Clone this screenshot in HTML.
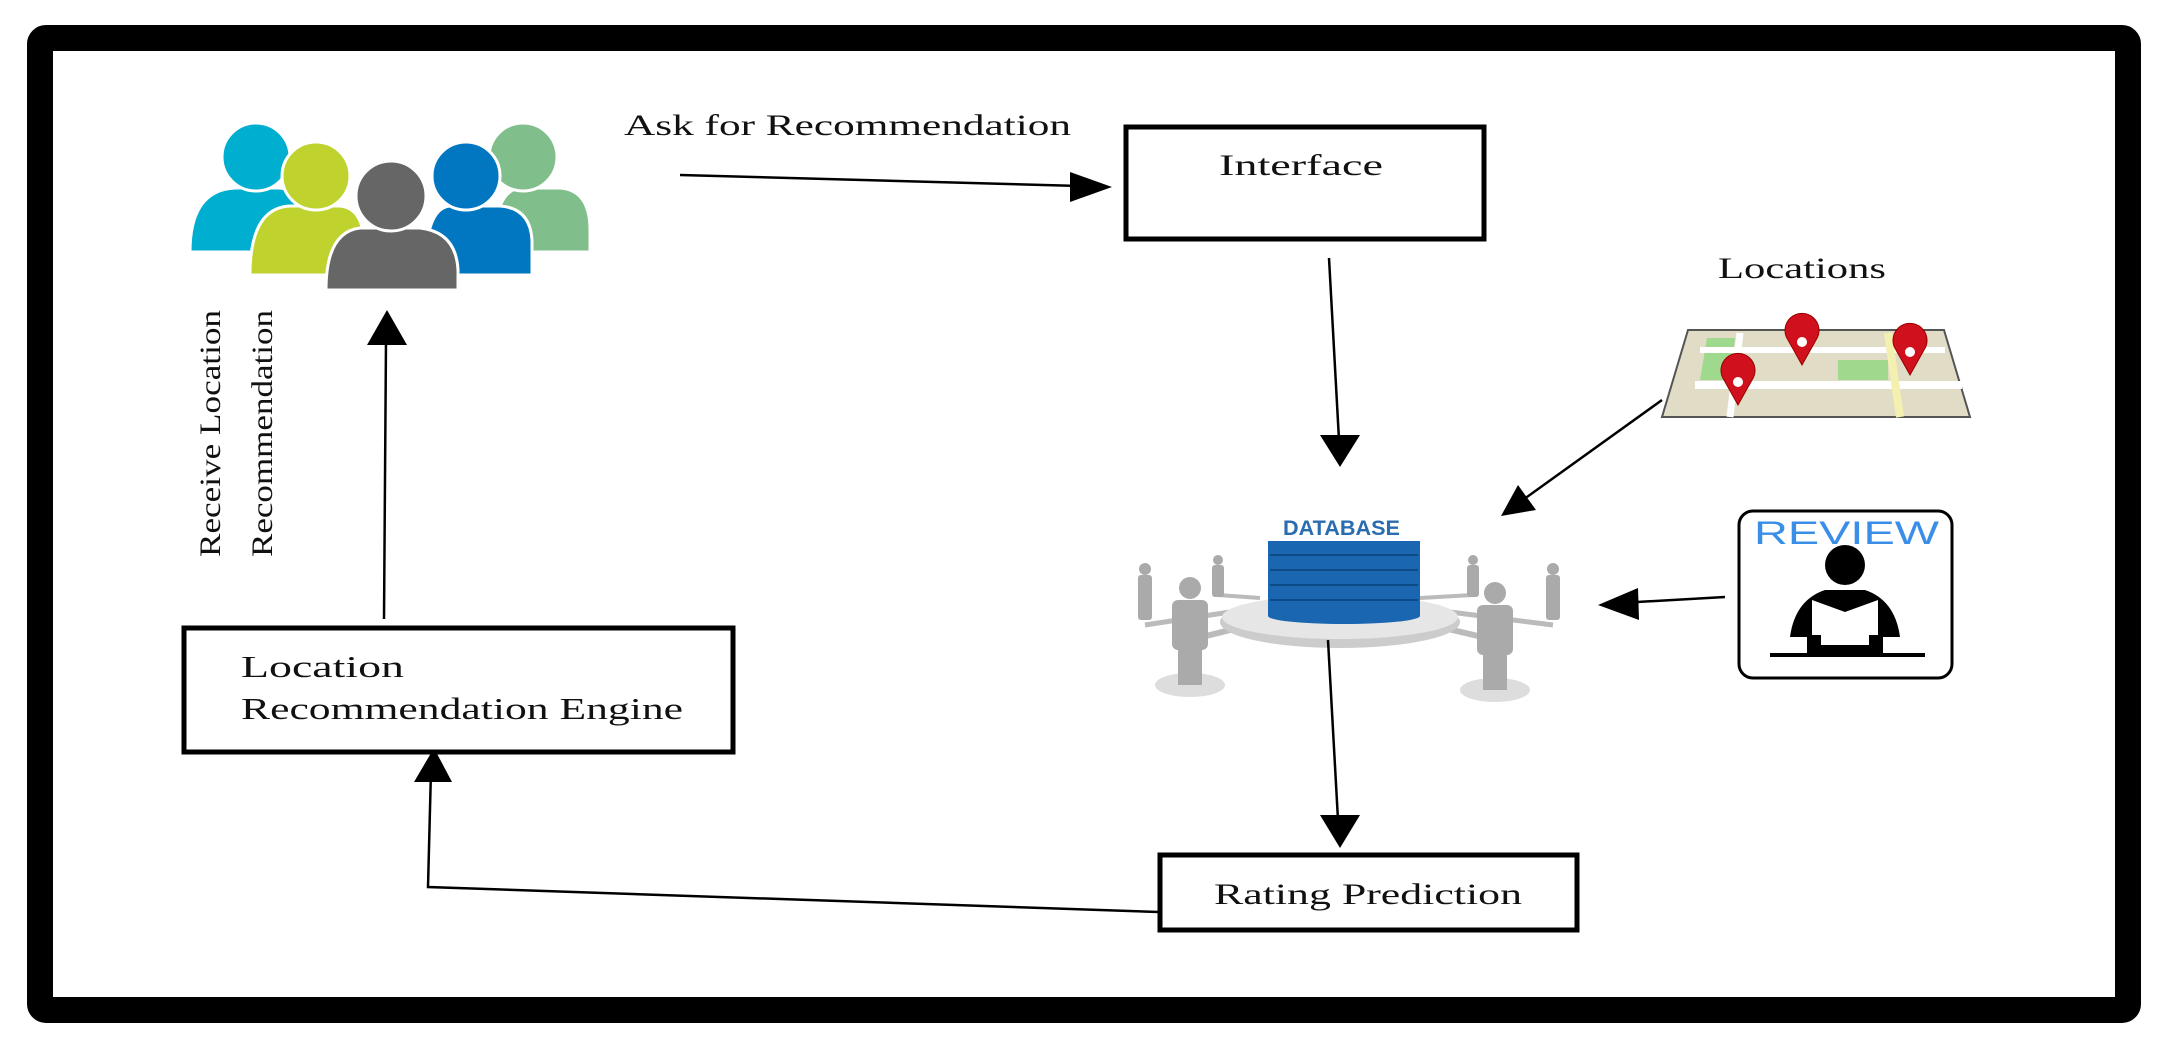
<!DOCTYPE html>
<html><head><meta charset="utf-8"><style>
html,body{margin:0;padding:0;background:#fff;}
svg{display:block;}
text{font-family:"Liberation Serif",serif;fill:#111;}
</style></head><body>
<svg width="2167" height="1046" viewBox="0 0 2167 1046" xmlns="http://www.w3.org/2000/svg">
<rect width="2167" height="1046" fill="#fff"/>
<rect x="40" y="38" width="2088" height="972" rx="6" fill="none" stroke="#000" stroke-width="26"/>

<!-- people icon -->
<g stroke="#fff" stroke-width="3">
<path d="M190,252 Q190,190 235,188 L280,188 Q300,190 305,230 L305,252 Z" fill="#00aed0"/>
<circle cx="256" cy="157" r="34" fill="#00aed0"/>
<path d="M492,252 Q495,190 520,188 L560,188 Q590,190 590,230 L590,252 Z" fill="#80be8c"/>
<circle cx="523" cy="157" r="34" fill="#80be8c"/>
<path d="M250,275 Q250,208 290,206 L340,206 Q362,208 364,240 L364,275 Z" fill="#bfd22e"/>
<circle cx="316" cy="176" r="34" fill="#bfd22e"/>
<path d="M425,275 Q425,208 450,206 L500,206 Q530,208 532,240 L532,275 Z" fill="#0077c0"/>
<circle cx="466" cy="176" r="34" fill="#0077c0"/>
<path d="M326,290 Q326,232 360,228 L420,228 Q456,232 458,270 L458,290 Z" fill="#666"/>
<circle cx="391" cy="196" r="35" fill="#666"/>
</g>

<!-- Ask for recommendation -->
<text x="624" y="135" font-size="30" textLength="447" lengthAdjust="spacingAndGlyphs">Ask for Recommendation</text>
<line x1="680" y1="175" x2="1080" y2="186" stroke="#000" stroke-width="2.5"/>
<path d="M1112,187 L1070,172 L1070,202 Z" fill="#000"/>

<!-- Interface -->
<rect x="1126" y="127" width="358" height="112" fill="#fff" stroke="#000" stroke-width="5"/>
<text x="1219" y="175" font-size="30" textLength="164" lengthAdjust="spacingAndGlyphs">Interface</text>

<!-- Interface -> DB -->
<line x1="1329" y1="258" x2="1339" y2="440" stroke="#000" stroke-width="2.5"/>
<path d="M1340,467 L1320,435 L1360,435 Z" fill="#000"/>

<!-- Locations -->
<text x="1718" y="278" font-size="30" textLength="168" lengthAdjust="spacingAndGlyphs">Locations</text>
<g>
<path d="M1688,330 L1944,330 L1970,417 L1662,417 Z" fill="#e0dcc6" stroke="#555" stroke-width="2"/>
<path d="M1707,338 L1735,338 L1730,380 L1700,380 Z" fill="#9ed98e"/>
<rect x="1838" y="360" width="50" height="20" fill="#9ed98e"/>
<path d="M1695,385 L1962,385" stroke="#fff" stroke-width="8"/>
<path d="M1700,350 L1945,350" stroke="#fff" stroke-width="6"/>
<path d="M1740,333 L1730,417" stroke="#fff" stroke-width="7"/>
<path d="M1888,333 L1900,417" stroke="#f4f0b0" stroke-width="8"/>
</g>
<g fill="#d0101c" stroke="#900" stroke-width="1">
<path d="M1738,405 L1724,380 A17,17 0 1 1 1752,380 Z"/>
<path d="M1802,365 L1788,340 A17,17 0 1 1 1816,340 Z"/>
<path d="M1910,375 L1896,350 A17,17 0 1 1 1924,350 Z"/>
</g>
<g fill="#fff"><circle cx="1738" cy="382" r="5"/><circle cx="1802" cy="342" r="5"/><circle cx="1910" cy="352" r="5"/></g>

<!-- Map -> DB -->
<line x1="1662" y1="400" x2="1520" y2="502" stroke="#000" stroke-width="2.5"/>
<path d="M1501,516 L1518,485 L1536,510 Z" fill="#000"/>

<!-- Database -->
<g>
<line x1="1190" y1="640" x2="1270" y2="620" stroke="#bbb" stroke-width="6"/>
<line x1="1495" y1="640" x2="1410" y2="620" stroke="#bbb" stroke-width="6"/>
<line x1="1145" y1="625" x2="1230" y2="612" stroke="#bbb" stroke-width="5"/>
<line x1="1553" y1="625" x2="1450" y2="612" stroke="#bbb" stroke-width="5"/>
<line x1="1218" y1="595" x2="1260" y2="598" stroke="#bbb" stroke-width="4"/>
<line x1="1473" y1="595" x2="1420" y2="598" stroke="#bbb" stroke-width="4"/>
<ellipse cx="1340" cy="622" rx="120" ry="26" fill="#ccc"/>
<ellipse cx="1340" cy="617" rx="118" ry="22" fill="#e6e6e6"/>
<rect x="1268" y="541" width="152" height="75" fill="#1a66b0"/>
<ellipse cx="1344" cy="616" rx="76" ry="8" fill="#1a66b0"/>
<g stroke="#0d4a88" stroke-width="2"><line x1="1270" y1="555" x2="1418" y2="555"/><line x1="1270" y1="570" x2="1418" y2="570"/><line x1="1270" y1="585" x2="1418" y2="585"/><line x1="1270" y1="600" x2="1418" y2="600"/></g>
<text x="1283" y="535" font-size="21" textLength="117" lengthAdjust="spacingAndGlyphs" style="font-family:'Liberation Sans',sans-serif;font-weight:bold;fill:#2a6cb0">DATABASE</text>
<g fill="#aaa">
<ellipse cx="1190" cy="685" rx="35" ry="12" fill="#ddd"/>
<rect x="1172" y="600" width="36" height="50" rx="6"/><rect x="1178" y="640" width="24" height="45"/><circle cx="1190" cy="588" r="11"/>
<ellipse cx="1495" cy="690" rx="35" ry="12" fill="#ddd"/>
<rect x="1477" y="605" width="36" height="50" rx="6"/><rect x="1483" y="645" width="24" height="45"/><circle cx="1495" cy="593" r="11"/>
<rect x="1138" y="575" width="14" height="45" rx="3"/><circle cx="1145" cy="569" r="6"/>
<rect x="1212" y="565" width="12" height="32" rx="3"/><circle cx="1218" cy="560" r="5"/>
<rect x="1467" y="565" width="12" height="32" rx="3"/><circle cx="1473" cy="560" r="5"/>
<rect x="1546" y="575" width="14" height="45" rx="3"/><circle cx="1553" cy="569" r="6"/>
</g>
</g>

<!-- Review -->
<rect x="1739" y="511" width="213" height="167" rx="14" fill="#fff" stroke="#000" stroke-width="3"/>
<text x="1754" y="544" font-size="32" textLength="185" lengthAdjust="spacingAndGlyphs" style="font-family:'Liberation Sans',sans-serif;fill:#3a8ee8">REVIEW</text>
<circle cx="1845" cy="565" r="20" fill="#000"/>
<path d="M1790,637 Q1795,600 1825,590 L1865,590 Q1895,600 1900,637 Z" fill="#000"/>
<path d="M1812,600 L1845,612 L1878,600 L1878,640 L1845,650 L1812,640 Z" fill="#fff"/>
<rect x="1807" y="635" width="14" height="20" fill="#000"/><rect x="1869" y="635" width="14" height="20" fill="#000"/>
<rect x="1818" y="645" width="54" height="12" fill="#000"/>
<line x1="1770" y1="655" x2="1925" y2="655" stroke="#000" stroke-width="4"/>

<!-- Review -> DB -->
<line x1="1725" y1="597" x2="1620" y2="603" stroke="#000" stroke-width="2.5"/>
<path d="M1598,605 L1638,588 L1639,620 Z" fill="#000"/>

<!-- DB -> Rating -->
<line x1="1328" y1="640" x2="1338" y2="820" stroke="#000" stroke-width="2.5"/>
<path d="M1340,848 L1320,815 L1360,815 Z" fill="#000"/>

<!-- Rating prediction -->
<rect x="1160" y="855" width="417" height="75" fill="#fff" stroke="#000" stroke-width="5"/>
<text x="1214" y="904" font-size="30" textLength="308" lengthAdjust="spacingAndGlyphs">Rating Prediction</text>

<!-- Rating -> Engine -->
<polyline points="1159,912 428,887 431,770" fill="none" stroke="#000" stroke-width="2.5"/>
<path d="M434,748 L414,782 L452,782 Z" fill="#000"/>

<!-- Engine -->
<rect x="184" y="628" width="549" height="124" fill="#fff" stroke="#000" stroke-width="5"/>
<text x="241" y="677" font-size="31" textLength="163" lengthAdjust="spacingAndGlyphs">Location</text>
<text x="241" y="719" font-size="31" textLength="442" lengthAdjust="spacingAndGlyphs">Recommendation Engine</text>

<!-- Engine -> people -->
<line x1="384" y1="619" x2="386" y2="340" stroke="#000" stroke-width="2.5"/>
<path d="M387,310 L367,345 L407,345 Z" fill="#000"/>

<!-- vertical labels -->
<text transform="translate(220,557) rotate(-90)" font-size="30" textLength="247" lengthAdjust="spacingAndGlyphs">Receive Location</text>
<text transform="translate(272,557) rotate(-90)" font-size="30" textLength="247" lengthAdjust="spacingAndGlyphs">Recommendation</text>
</svg>
</body></html>
